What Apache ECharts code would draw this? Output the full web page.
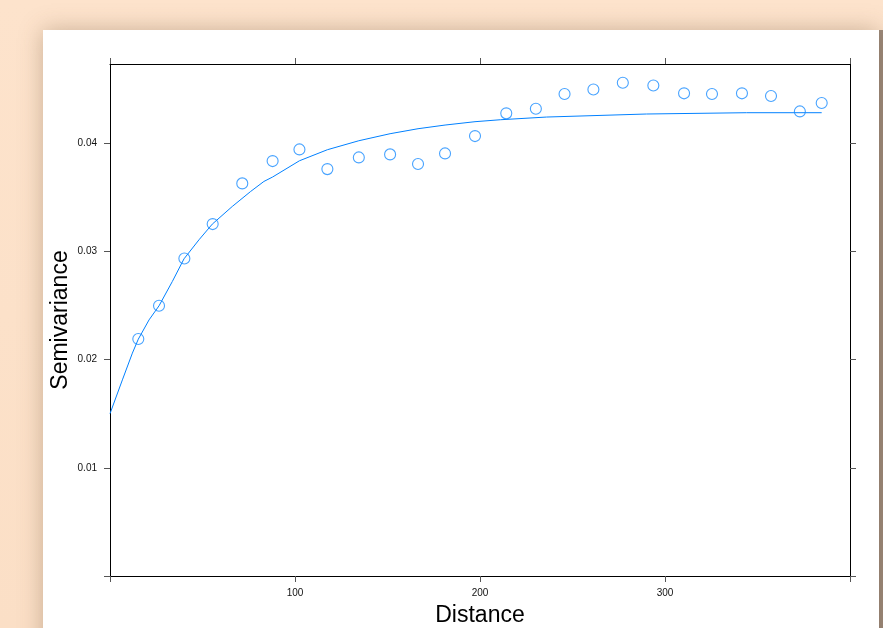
<!DOCTYPE html>
<html>
<head>
<meta charset="utf-8">
<title>Semivariance</title>
<script src="https://cdn.jsdelivr.net/npm/echarts@6/dist/echarts.min.js"></script>
<style>
  html, body {
    margin: 0;
    padding: 0;
    width: 883px;
    height: 628px;
    overflow: hidden;
    background: linear-gradient(180deg, #fde3cc 0%, #fbdfc6 100%);
  }
  .panel {
    position: absolute;
    left: 43px;
    top: 30px;
    width: 836px;
    height: 640px;
    background: #fff;
    box-shadow: 0 0 22px rgba(110, 80, 50, 0.35), 4px 0 0 #9c8a7c;
  }
  #chart {
    position: absolute;
    left: 0;
    top: 0;
    width: 883px;
    height: 628px;
  }
</style>
</head>
<body>
<div class="panel"></div>
<div id="chart"></div>
<script>
// sample variogram (points)
const distance = [15.3, 26.5, 40.2, 55.5, 71.5, 87.9, 102.4, 117.5, 134.5, 151.4, 166.5, 181.1, 197.3,
  214.2, 230.2, 245.7, 261.3, 277.2, 293.7, 310.3, 325.4, 341.6, 357.3, 372.9, 384.7];
const gamma = [0.02190, 0.02496, 0.02933, 0.03251, 0.03627, 0.03833, 0.03941, 0.03759, 0.03867, 0.03895,
  0.03806, 0.03904, 0.04064, 0.04274, 0.04317, 0.04453, 0.04495, 0.04557, 0.04532, 0.04459,
  0.04453, 0.04459, 0.04434, 0.04292, 0.04370];

// fitted model line
const fitDistance = [0, 6.7, 12.1, 15.3, 21.1, 26.5, 33.7, 40, 48.1, 55.3, 66.1, 76, 83.2, 87.9,
  102.4, 117.5, 134.5, 151.4, 166.5, 181.1, 197.3, 211, 236, 290, 344, 384.7];
const fitGamma = [0.01500, 0.01812, 0.02059, 0.02188, 0.02366, 0.02496, 0.02721, 0.02930, 0.03106,
  0.03251, 0.03414, 0.03552, 0.03645, 0.03686, 0.03836, 0.03938, 0.04021, 0.04086, 0.04132,
  0.04166, 0.04197, 0.04215, 0.04240, 0.04268, 0.04280, 0.04280];

// ticks and labelled ticks
const xTicks = [0, 100, 200, 300, 400];
const xLabels = [100, 200, 300];
const yTicks = [0, 0.01, 0.02, 0.03, 0.04];
const yLabels = [0.01, 0.02, 0.03, 0.04];

const chart = echarts.init(document.getElementById("chart"));

const lineStyle = { show: true, onZero: false, lineStyle: { color: "#000", width: 1 } };
const labelStyle = { color: "#111", fontSize: 10, fontFamily: "Liberation Sans" };
const titleStyle = { color: "#000", fontSize: 23, fontFamily: "Liberation Sans" };

function ticks(values) {
  return { show: true, inside: false, length: 6, customValues: values, lineStyle: { color: "#555", width: 1 } };
}

const option = {
  animation: false,
  backgroundColor: "transparent",
  grid: { left: 110, top: 64, right: 33, bottom: 52, show: false, outerBoundsMode: "none", containLabel: false },
  xAxis: [
    {
      type: "value", min: 0, max: 400, interval: 100, position: "bottom",
      name: "Distance", nameLocation: "middle", nameGap: 28, nameMoveOverlap: false, nameTextStyle: titleStyle,
      axisLine: lineStyle, axisTick: ticks(xTicks), splitLine: { show: false },
      axisLabel: Object.assign({ margin: 12, customValues: xLabels }, labelStyle),
    },
    {
      type: "value", min: 0, max: 400, interval: 100, position: "top",
      axisLine: lineStyle, axisTick: ticks(xTicks), splitLine: { show: false },
      axisLabel: { show: false },
    },
  ],
  yAxis: [
    {
      type: "value", min: 0, max: 0.0473, interval: 0.01, position: "left",
      name: "Semivariance", nameLocation: "middle", nameGap: 38, nameMoveOverlap: false, nameTextStyle: titleStyle,
      axisLine: lineStyle, axisTick: ticks(yTicks), splitLine: { show: false },
      axisLabel: Object.assign({ margin: 13, customValues: yLabels, formatter: (v) => Number(v).toFixed(2) }, labelStyle),
    },
    {
      type: "value", min: 0, max: 0.0473, interval: 0.01, position: "right",
      axisLine: lineStyle, axisTick: ticks(yTicks), splitLine: { show: false },
      axisLabel: { show: false },
    },
  ],
  series: [
    {
      type: "line",
      data: fitDistance.map((d, i) => [d, fitGamma[i]]),
      showSymbol: false,
      smooth: false,
      lineStyle: { color: "#0080ff", width: 1 },
      z: 2,
    },
    {
      type: "scatter",
      data: distance.map((d, i) => [d, gamma[i]]),
      symbol: "circle",
      symbolSize: 11,
      itemStyle: { color: "rgba(0,0,0,0)", borderColor: "#1a8cff", borderWidth: 1.1 },
      z: 3,
    },
  ],
};

chart.setOption(option);
</script>
</body>
</html>
